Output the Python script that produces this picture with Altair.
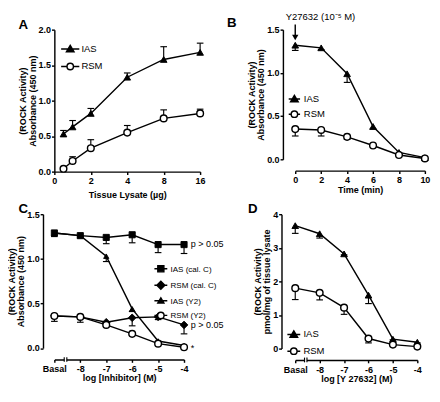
import math
import altair as alt
import pandas as pd

FONT = "Liberation Sans"
BLACK = "black"

panel_letters = ["A", "B", "C", "D"]

# ---------------- Panel A : ROCK activity vs tissue lysate ----------------
a_lysate = [0.5, 1, 2, 4, 8, 16]
a_ticks = [0, 2, 4, 8, 16]
a_ias = [0.53, 0.63, 0.82, 1.33, 1.58, 1.68]
a_ias_err = [0.05, 0.09, 0.07, 0.06, 0.18, 0.13]
a_rsm = [0.04, 0.15, 0.33, 0.55, 0.75, 0.82]
a_rsm_err = [0.0, 0.06, 0.12, 0.10, 0.12, 0.06]

# ---------------- Panel B : time course after Y27632 ----------------
b_time = [0, 2, 4, 6, 8, 10]
b_ias = [1.32, 1.29, 0.99, 0.38, 0.08, 0.02]
b_ias_err = [0.06, 0.02, 0.10, 0.03, 0.0, 0.0]
b_rsm = [0.35, 0.34, 0.26, 0.16, 0.05, 0.01]
b_rsm_err = [0.08, 0.07, 0.03, 0.01, 0.0, 0.0]
b_arrow_label = "Y27632 (10\u207b\u2075 M)"
b_arrow_time = [0]
b_arrow_text_y = [1.65]
b_arrow_shaft = [1.56, 1.43]
b_arrow_head_y = [1.41]

# ---------------- Panel C : inhibitor concentration ----------------
dose = [-9, -8, -7, -6, -5, -4]
dose_labels = ["Basal", "-8", "-7", "-6", "-5", "-4"]
c_ias_calc = [1.29, 1.26, 1.24, 1.27, 1.16, 1.16]
c_ias_calc_err = [0.04, 0.01, 0.07, 0.09, 0.09, 0.10]
c_rsm_calc = [0.36, 0.35, 0.29, 0.34, 0.35, 0.26]
c_rsm_calc_err = [0.06, 0.06, 0.02, 0.09, 0.03, 0.10]
c_ias_y2 = [1.29, 1.26, 1.03, 0.44, 0.08, 0.03]
c_ias_y2_err = [0.0, 0.0, 0.06, 0.03, 0.0, 0.0]
c_rsm_y2 = [0.36, 0.35, 0.26, 0.16, 0.05, 0.01]
c_rsm_y2_err = [0.0, 0.0, 0.02, 0.01, 0.0, 0.0]
c_notes = ["p > 0.05", "p > 0.05", "*"]
c_notes_y = [1.16, 0.26, 0.0]

# ---------------- Panel D : Y27632 concentration ----------------
d_ias = [3.66, 3.42, 2.82, 1.59, 0.28, 0.19]
d_ias_err = [0.23, 0.13, 0.03, 0.25, 0.02, 0.02]
d_rsm = [1.80, 1.66, 1.22, 0.30, 0.12, 0.06]
d_rsm_err = [0.34, 0.21, 0.20, 0.13, 0.02, 0.02]

axis_break = [-8.62, -8.52]

ROCK_TITLE = ["(ROCK Activity)", "Absorbance (450 nm)"]
ROCK_TITLE_D = ["(ROCK Activity)", "pmol/mg of tissue lysate"]

MARKS = {
    "triangle": dict(shape="triangle-up", size=49, fill=BLACK, strokeWidth=1),
    "small-triangle": dict(shape="triangle-up", size=30, fill=BLACK, strokeWidth=1),
    "circle": dict(shape="circle", size=50, fill="white", strokeWidth=1.5),
    "square": dict(shape="square", size=42, fill=BLACK, strokeWidth=1),
    "diamond": dict(shape="diamond", size=64, fill=BLACK, strokeWidth=1),
}


def long_table(xs, names, values, errors, direction):
    rows = []
    for name, vals, errs in zip(names, values, errors):
        for x, v, e in zip(xs, vals, errs):
            rows.append({"x": x, "y": v, "err": e, "yend": v + direction * e, "series": name})
    return pd.DataFrame(rows)


def sym_paths(kinds, L):
    out = []
    for k in kinds:
        if k == "triangle":
            out.append(f"M{-L},0H{L}M0,-0.95L1,0.75H-1Z")
        elif k == "small-triangle":
            out.append(f"M{-L},0H{L}M0,-0.75L0.8,0.6H-0.8Z")
        elif k == "circle":
            out.append(f"M{-L},0H-0.85M0.85,0H{L}M0.85,0A0.85,0.85 0 1 1 -0.85,0A0.85,0.85 0 1 1 0.85,0Z")
        elif k == "square":
            out.append(f"M{-L},0H{L}M-0.8,-0.8H0.8V0.8H-0.8Z")
        elif k == "diamond":
            out.append(f"M{-L},0H{L}M0,-1.05L1.05,0L0,1.05L-1.05,0Z")
    return out


def label_expr(positions, labels):
    expr = "''"
    for p, l in reversed(list(zip(positions, labels))):
        expr = f"datum.value == {p} ? '{l}' : ({expr})"
    return expr


def letter_layer(letter, dx, dy):
    return alt.Chart(pd.DataFrame({"letter": [letter]})).mark_text(
        font=FONT, fontSize=14, fontWeight="bold", align="left", baseline="alphabetic", color=BLACK
    ).encode(x=alt.value(dx), y=alt.value(dy), text="letter:N")


def panel(letter, letter_pos, df, names, kinds, x_enc, y_enc, width, height, legend, extra=(), calc=None):
    base = alt.Chart(df)
    if calc:
        base = base.transform_calculate(**calc)
    errs = base.transform_filter("datum.err > 0")
    err_rule = errs.mark_rule(color=BLACK, strokeWidth=1.2).encode(x=x_enc, y=y_enc, y2="yend:Q")
    err_cap = errs.transform_calculate(y="datum.yend").mark_tick(
        color=BLACK, orient="horizontal", size=7, thickness=1.2, opacity=1
    ).encode(x=x_enc, y=y_enc)
    line = base.mark_line(color=BLACK, strokeWidth=1.5).encode(x=x_enc, y=y_enc, detail="series:N")
    points = []
    for name, kind in zip(names, kinds):
        st = MARKS[kind]
        points.append(
            base.transform_filter(alt.datum.series == name)
            .mark_point(filled=True, opacity=1, stroke=BLACK, **st)
            .encode(x=x_enc, y=y_enc)
        )
    lx, ly, L, fsize, rowpad, loff = legend
    leg = alt.Legend(
        title=None, orient="none", legendX=lx, legendY=ly, symbolSize=64,
        symbolStrokeWidth=1.5, symbolOpacity=1,
        labelFont=FONT, labelFontSize=fsize, labelColor=BLACK, labelFontWeight="normal",
        rowPadding=rowpad, labelOffset=loff, padding=0,
    )
    fills = ["white" if k == "circle" else BLACK for k in kinds]
    legend_layer = base.mark_point(opacity=0, strokeWidth=1.5).encode(
        x=x_enc, y=y_enc,
        shape=alt.Shape("series:N", scale=alt.Scale(domain=names, range=sym_paths(kinds, L)), legend=leg),
        fill=alt.Fill("series:N", scale=alt.Scale(domain=names, range=fills), legend=leg),
        stroke=alt.Stroke("series:N", scale=alt.Scale(domain=names, range=[BLACK] * len(names)), legend=leg),
    )
    layers = ([err_rule, err_cap, line] + points + [legend_layer] + list(extra)
              + [letter_layer(letter, *letter_pos)])
    return alt.layer(*layers).properties(width=width, height=height)


def y_axis_enc(top, step, fmt, title, offset):
    vals = [round(i * step, 3) for i in range(int(round(top / step)) + 1)]
    return alt.Y("y:Q", scale=alt.Scale(domain=[0, top], nice=False, zero=True),
                 axis=alt.Axis(values=vals, format=fmt, title=title, offset=offset,
                               labelOverlap=False))


def break_layers(x_enc, height, offset):
    yb = height + offset
    gap = alt.Chart(pd.DataFrame({"x": [axis_break[0]], "x2": [axis_break[1]]})).mark_rule(
        color="white", strokeWidth=4).encode(x=x_enc, x2="x2:Q", y=alt.value(yb))
    ticks = alt.Chart(pd.DataFrame({"x": axis_break})).mark_rule(
        color=BLACK, strokeWidth=1.2).encode(x=x_enc, y=alt.value(yb - 2.5), y2=alt.value(yb + 2.5))
    return [gap, ticks]


# ---------- A ----------
A_W, A_H = 154, 150
a_tick_pos = [t / 2 if t <= 2 else math.log2(t) for t in a_ticks]
a_df = long_table(a_lysate, ["IAS", "RSM"], [a_ias, a_rsm], [a_ias_err, a_rsm_err], +1)
a_x = alt.X("pos:Q", scale=alt.Scale(domain=[0, 4], nice=False, zero=False),
            axis=alt.Axis(values=a_tick_pos, labelExpr=label_expr(a_tick_pos, [str(t) for t in a_ticks]),
                          title="Tissue Lysate (\u00b5g)", titlePadding=5, labelPadding=2,
                          labelOverlap=False, labelFlush=False))
a_y = y_axis_enc(2.0, 0.5, ".1f", ROCK_TITLE, 0)
chart_a = panel(panel_letters[0], (-38, -1), a_df, ["IAS", "RSM"], ["triangle", "circle"], a_x, a_y, A_W, A_H,
                (11.75, 15.5, 2.4, 10, 5.4, 6.8),
                calc={"pos": "datum.x <= 2 ? datum.x / 2 : log(datum.x) / LN2"})

# ---------- B ----------
B_W, B_H = 137, 137
b_df = long_table(b_time, ["IAS", "RSM"], [b_ias, b_rsm], [b_ias_err, b_rsm_err], -1)
b_x = alt.X("x:Q", scale=alt.Scale(domain=[0, 10], nice=False, zero=False),
            axis=alt.Axis(values=b_time, format="d", title="Time (min)", offset=12,
                          labelPadding=1, titlePadding=2, labelOverlap=False, labelFlush=False))
b_y = y_axis_enc(1.5, 0.5, ".1f", ROCK_TITLE, 13)
b_text = alt.Chart(pd.DataFrame({"x": b_arrow_time, "y": b_arrow_text_y, "label": [b_arrow_label]})).mark_text(
    font=FONT, fontSize=10, align="left", dx=-10, color=BLACK).encode(x=b_x, y=b_y, text="label:N")
b_shaft = alt.Chart(pd.DataFrame({"x": b_arrow_time, "y": [b_arrow_shaft[0]], "y2": [b_arrow_shaft[1]]})).mark_rule(
    color=BLACK, strokeWidth=1.5).encode(x=b_x, y=b_y, y2="y2:Q")
b_head = alt.Chart(pd.DataFrame({"x": b_arrow_time, "y": b_arrow_head_y})).mark_point(
    shape="triangle-down", filled=True, opacity=1, color=BLACK, size=45).encode(x=b_x, y=b_y)
chart_b = panel(panel_letters[1], (-72, -3), b_df, ["IAS", "RSM"], ["triangle", "circle"], b_x, b_y, B_W, B_H,
                (-5.9, 68.3, 1.5, 10, 3, 5), extra=[b_text, b_shaft, b_head])

# ---------- C ----------
C_W, C_H = 137, 141.5
c_names = ["IAS (cal. C)", "RSM (cal. C)", "IAS (Y2)", "RSM (Y2)"]
c_df = long_table(dose, c_names,
                  [c_ias_calc, c_rsm_calc, c_ias_y2, c_rsm_y2],
                  [c_ias_calc_err, c_rsm_calc_err, c_ias_y2_err, c_rsm_y2_err], -1)
c_x = alt.X("x:Q", scale=alt.Scale(domain=[-9, -4], nice=False, zero=False),
            axis=alt.Axis(values=dose, labelExpr=label_expr(dose, dose_labels),
                          title="log [Inhibitor] (M)", offset=12, labelPadding=2, titlePadding=0,
                          labelOverlap=False, labelFlush=False))
c_y = y_axis_enc(1.5, 0.5, ".1f", ROCK_TITLE, 12)
c_text = alt.Chart(pd.DataFrame({"x": [dose[-1]] * len(c_notes), "y": c_notes_y, "label": c_notes})).mark_text(
    font=FONT, fontSize=9.5, align="left", dx=7, color=BLACK).encode(x=c_x, y=c_y, text="label:N")
chart_c = panel(panel_letters[2], (-38, -1), c_df, c_names, ["square", "diamond", "small-triangle", "circle"],
                c_x, c_y, C_W, C_H,
                (107.5, 52.7, 1.7, 8.5, 2.4, 5.2), extra=[c_text] + break_layers(c_x, C_H, 12))

# ---------- D ----------
D_W, D_H = 129, 142
d_df = long_table(dose, ["IAS", "RSM"], [d_ias, d_rsm], [d_ias_err, d_rsm_err], -1)
d_x = alt.X("x:Q", scale=alt.Scale(domain=[-9, -4], nice=False, zero=False),
            axis=alt.Axis(values=dose, labelExpr=label_expr(dose, dose_labels),
                          title="log [Y 27632] (M)", offset=12, labelPadding=2, titlePadding=0,
                          labelOverlap=False, labelFlush=False))
d_y = y_axis_enc(4, 1, "d", ROCK_TITLE_D, 14.5)
chart_d = panel(panel_letters[3], (-50, -1), d_df, ["IAS", "RSM"], ["triangle", "circle"], d_x, d_y, D_W, D_H,
                (-6.5, 122, 1.7, 10, 4.7, 5.2), extra=break_layers(d_x, D_H, 12))

chart = (
    alt.concat(chart_a, chart_b, chart_c, chart_d, columns=2,
               spacing={"row": 4, "column": 3.5})
    .resolve_scale(x="independent", y="independent", shape="independent", fill="independent",
                   stroke="independent")
    .resolve_legend(shape="independent", fill="independent", stroke="independent")
    .properties(padding={"top": -7, "left": -2, "right": 0, "bottom": 0})
    .configure_view(stroke=None)
    .configure_axis(domainColor=BLACK, domainWidth=1.5, tickColor=BLACK, tickWidth=1.5, tickSize=3,
                    labelFont=FONT, labelFontSize=9.5, labelFontWeight="bold", labelColor=BLACK,
                    titleFont=FONT, titleFontSize=9.5, titleFontWeight="bold", titleColor=BLACK,
                    grid=False, titleLineHeight=10)
    .configure_axisY(titlePadding=1, labelPadding=1)
)

chart.save("out.html", embed_options={"renderer": "svg", "actions": False})
